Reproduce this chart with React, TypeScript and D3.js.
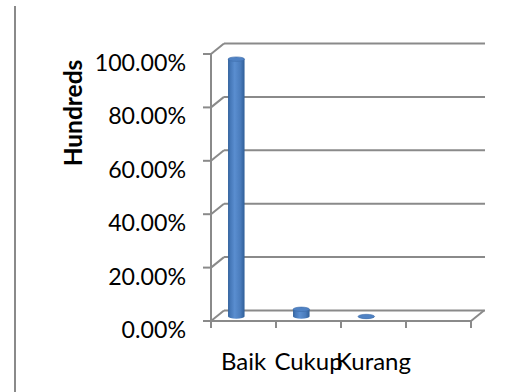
import React from "react";
import * as d3 from "d3";

// Share of respondents per rating
const categories = ["Baik", "Cukup", "Kurang"];
const values = [0.964, 0.027, 0.0];
const slotCount = 4; // category axis has one empty slot after the last label
const yTicks = [0, 0.2, 0.4, 0.6, 0.8, 1.0];
const yAxisTitle = "Hundreds";

const W = 516;
const H = 392;

export default function App() {
  const x0 = 211;
  const x1 = 471;
  const depthX = 13;
  const depthY = -10.5;

  const y = d3.scaleLinear().domain([0, 1]).range([321, 54]);
  const slot = d3
    .scaleBand<number>()
    .domain(d3.range(slotCount))
    .range([x0, x1])
    .paddingInner(0)
    .paddingOuter(0);
  const fmt = d3.format(".2%");

  const grid = "#8a8a8a";
  const barW = 16.5;
  const ry = 2.2;
  const barBaseShift = -4.5; // bars stand mid-way into the floor depth

  return (
    <svg
      width={W}
      height={H}
      style={{ position: "absolute", left: 0, top: 0, background: "#fff" }}
      fontFamily="Lato, 'Open Sans', sans-serif"
    >
      <defs>
        <linearGradient id="cyl" x1="0" x2="1" y1="0" y2="0">
          <stop offset="0%" stopColor="#2f5e98" />
          <stop offset="12%" stopColor="#4476b6" />
          <stop offset="40%" stopColor="#5a8ed0" />
          <stop offset="75%" stopColor="#4a7cbc" />
          <stop offset="100%" stopColor="#2f5e98" />
        </linearGradient>
      </defs>

      {/* outer frame edge */}
      <line x1={15} x2={15} y1={6} y2={H} stroke={grid} strokeWidth={2} />

      {/* back wall gridlines with their depth connectors */}
      {yTicks.map((t) => (
        <g key={"g" + t}>
          <line
            x1={x0 + depthX}
            x2={x1 + depthX + 1}
            y1={y(t) + depthY}
            y2={y(t) + depthY}
            stroke={grid}
            strokeWidth={2}
          />
          <line
            x1={x0}
            y1={y(t)}
            x2={x0 + depthX}
            y2={y(t) + depthY}
            stroke={grid}
            strokeWidth={2}
          />
          <line x1={x0 - 8} x2={x0} y1={y(t)} y2={y(t)} stroke={grid} strokeWidth={2} />
          <text
            x={186}
            y={y(t) + 8}
            textAnchor="end"
            dominantBaseline="central"
            fontSize={23.2}
            fill="#000"
          >
            {fmt(t)}
          </text>
        </g>
      ))}

      {/* floor */}
      <line x1={x0} x2={x1} y1={y(0)} y2={y(0)} stroke={grid} strokeWidth={2} />
      <line
        x1={x1}
        y1={y(0)}
        x2={x1 + depthX}
        y2={y(0) + depthY}
        stroke={grid}
        strokeWidth={2}
      />

      {/* value axis */}
      <line x1={x0} x2={x0} y1={y(1)} y2={y(0) + 7} stroke={grid} strokeWidth={2} />

      {/* category ticks */}
      {d3.range(slotCount + 1).map((i) => {
        const xt = x0 + i * slot.bandwidth();
        return (
          <line key={"c" + i} x1={xt} x2={xt} y1={y(0)} y2={y(0) + 7} stroke={grid} strokeWidth={2} />
        );
      })}

      {/* cylinders */}
      {categories.map((c, i) => {
        const cx = (slot(i) as number) + 25.3;
        const base = y(0) + barBaseShift;
        const top = y(values[i]) + barBaseShift;
        return (
          <g key={c}>
            <path
              d={`M${cx - barW / 2},${top} L${cx - barW / 2},${base} A${barW / 2},${ry} 0 0 0 ${
                cx + barW / 2
              },${base} L${cx + barW / 2},${top} Z`}
              fill="url(#cyl)"
            />
            <ellipse cx={cx} cy={top} rx={barW / 2} ry={ry} fill="#4f82c4" stroke="#3b6aa8" strokeWidth={0.6} />
          </g>
        );
      })}

      {/* category labels */}
      {categories.map((c, i) => (
        <text
          key={"l" + c}
          x={(slot(i) as number) + slot.bandwidth() / 2}
          y={370}
          textAnchor="middle"
          fontSize={24}
          fill="#000"
        >
          {c}
        </text>
      ))}

      {/* value axis title */}
      <text
        transform={`translate(82,113) rotate(-90)`}
        textAnchor="middle"
        fontSize={24.5}
        fontWeight="bold"
        fill="#000"
      >
        {yAxisTitle}
      </text>
    </svg>
  );
}
